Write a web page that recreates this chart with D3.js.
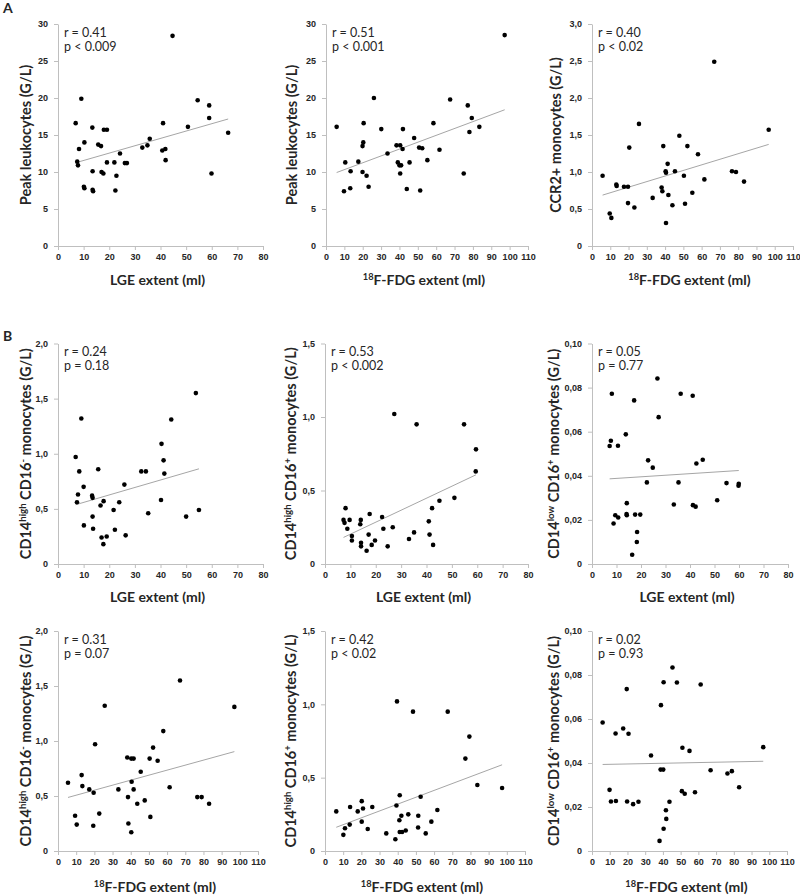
<!DOCTYPE html>
<html>
<head>
<meta charset="utf-8">
<script src="https://cdn.jsdelivr.net/npm/d3@7"></script>
<style>
  body { margin: 0; background: #fff; }
  svg { font-family: Lato, "Open Sans", sans-serif; }
</style>
</head>
<body>
<svg id="chart" width="800" height="896"></svg>
<script>
// values: [extent (ml), count]
const leukoLge = [[44.7,28.4],[9.1,19.9],[54.5,19.7],[59.0,19.0],[6.9,16.6],[41.0,16.6],[59.0,17.3],[50.7,16.1],[13.4,16.0],[17.9,15.7],[19.1,15.7],[66.4,15.3],[35.8,14.5],[10.3,14.0],[15.7,13.7],[16.8,13.5],[34.9,13.6],[32.9,13.3],[8.2,13.1],[40.7,12.9],[41.9,13.1],[24.2,12.5],[42.0,11.6],[7.5,11.4],[7.8,10.9],[19.1,11.3],[22.0,11.3],[26.1,11.2],[26.9,11.2],[13.5,10.1],[17.0,10.0],[17.7,9.8],[59.9,9.8],[22.8,9.5],[10.1,8.0],[10.3,7.8],[13.5,7.6],[13.7,7.4],[22.4,7.5]];
const leukoFdg = [[97.3,28.5],[26.1,20.0],[67.6,19.8],[77.2,19.0],[79.4,17.3],[20.5,16.6],[58.5,16.6],[5.8,16.1],[83.5,16.1],[30.1,15.8],[41.9,15.8],[78.1,15.4],[48.0,14.6],[20.3,14.0],[19.9,13.5],[38.4,13.6],[40.4,13.6],[50.7,13.3],[52.4,13.2],[41.7,13.1],[61.8,13.0],[33.5,12.5],[55.2,11.6],[10.5,11.3],[17.6,11.4],[39.1,11.3],[45.5,11.3],[40.0,10.9],[40.9,10.9],[13.4,10.1],[19.9,10.0],[22.1,9.5],[40.4,9.8],[75.0,9.8],[23.2,8.0],[13.2,7.8],[9.8,7.4],[44.0,7.7],[51.3,7.5]];
const ccr2Fdg = [[66.9,2.49],[25.7,1.65],[96.7,1.57],[47.8,1.49],[39.0,1.35],[52.2,1.35],[20.4,1.33],[58.0,1.24],[41.4,1.11],[40.3,1.01],[40.5,0.99],[45.4,1.01],[76.6,1.01],[78.8,1.0],[5.8,0.95],[50.3,0.95],[61.5,0.90],[83.2,0.87],[13.3,0.83],[13.5,0.81],[17.5,0.80],[19.7,0.80],[38.1,0.79],[38.5,0.74],[41.8,0.69],[54.9,0.72],[33.2,0.65],[19.7,0.58],[50.9,0.57],[44.0,0.55],[23.2,0.52],[9.7,0.44],[10.6,0.38],[40.5,0.31]];
const cd16negLge = [[53.8,1.55],[44.2,1.31],[9.1,1.32],[40.4,1.09],[6.9,0.97],[41.2,0.94],[15.7,0.86],[8.3,0.84],[32.5,0.84],[34.3,0.84],[41.5,0.82],[25.9,0.72],[10.0,0.70],[7.8,0.63],[13.3,0.62],[13.5,0.60],[7.4,0.56],[16.6,0.53],[17.8,0.57],[23.9,0.56],[40.2,0.58],[21.7,0.49],[55.0,0.49],[35.2,0.46],[13.5,0.43],[50.0,0.43],[10.1,0.35],[13.7,0.32],[22.2,0.31],[26.4,0.26],[19.0,0.25],[17.0,0.24],[17.7,0.18]];
const cd16posLge = [[27.3,1.02],[36.1,0.95],[54.8,0.95],[59.5,0.78],[59.4,0.63],[51.0,0.45],[45.1,0.43],[8.1,0.38],[42.2,0.38],[17.6,0.34],[22.5,0.32],[7.3,0.30],[9.7,0.30],[14.1,0.30],[40.9,0.29],[7.7,0.28],[13.9,0.27],[26.7,0.25],[8.8,0.24],[23.0,0.24],[35.1,0.215],[17.2,0.20],[41.2,0.20],[10.6,0.19],[33.1,0.17],[10.6,0.16],[19.7,0.16],[14.2,0.145],[18.4,0.13],[14.2,0.12],[24.7,0.12],[42.6,0.13],[16.4,0.09]];
const cd14lowLge = [[26.7,0.0841],[8.1,0.0772],[36.2,0.0772],[41.1,0.0763],[17.2,0.0742],[27.2,0.0666],[13.8,0.0588],[7.7,0.0559],[7.2,0.0535],[10.6,0.0536],[22.9,0.0470],[45.2,0.0473],[42.6,0.0456],[24.8,0.0437],[22.4,0.0370],[35.3,0.0370],[54.9,0.0367],[59.9,0.0364],[59.8,0.0355],[51.1,0.0289],[33.4,0.0270],[41.2,0.0267],[42.3,0.0260],[14.2,0.0276],[14.1,0.0227],[14.2,0.0221],[9.5,0.0221],[10.7,0.0211],[17.6,0.0224],[19.7,0.0224],[8.8,0.0184],[18.4,0.0145],[18.3,0.0100],[16.4,0.0042]];
const cd16negFdg = [[67.1,1.55],[25.7,1.32],[97.0,1.31],[57.9,1.09],[20.4,0.97],[52.3,0.94],[38.1,0.85],[40.3,0.84],[41.6,0.84],[50.4,0.84],[54.8,0.82],[45.5,0.72],[13.0,0.69],[5.5,0.62],[40.5,0.63],[13.4,0.59],[17.2,0.56],[33.2,0.56],[41.6,0.56],[61.4,0.58],[19.6,0.53],[38.5,0.49],[76.6,0.49],[79.0,0.49],[47.7,0.46],[43.6,0.43],[83.1,0.43],[22.7,0.34],[9.4,0.32],[50.8,0.31],[10.3,0.24],[19.4,0.23],[38.7,0.25],[40.3,0.17]];
const cd16posFdg = [[39.6,1.02],[48.4,0.95],[67.5,0.95],[79.4,0.78],[77.2,0.63],[83.8,0.45],[97.4,0.43],[41.1,0.38],[52.6,0.37],[39.3,0.31],[13.8,0.30],[20.2,0.34],[20.9,0.29],[26.0,0.30],[6.2,0.27],[18.0,0.27],[61.8,0.28],[45.8,0.25],[42.0,0.24],[51.3,0.24],[40.9,0.21],[20.2,0.20],[58.5,0.20],[13.6,0.18],[51.2,0.16],[11.0,0.155],[23.5,0.15],[41.1,0.13],[42.4,0.13],[44.4,0.14],[10.1,0.11],[33.7,0.12],[55.4,0.12],[38.7,0.08]];
const cd14lowFdg = [[45.4,0.0834],[40.4,0.0767],[47.9,0.0766],[61.3,0.0757],[19.6,0.0736],[38.9,0.0663],[6.0,0.0584],[17.6,0.0557],[13.3,0.0534],[20.6,0.0533],[51.0,0.0469],[55.0,0.0455],[96.6,0.0472],[33.3,0.0434],[38.7,0.0370],[40.2,0.0370],[66.9,0.0367],[78.9,0.0363],[76.4,0.0352],[83.0,0.0290],[9.9,0.0278],[50.7,0.0272],[52.3,0.0260],[58.1,0.0267],[10.7,0.0225],[13.5,0.0227],[19.8,0.0225],[23.2,0.0213],[26.2,0.0224],[43.7,0.0224],[41.7,0.0185],[41.9,0.0146],[40.4,0.0101],[38.1,0.0046]];

const rValues = ['r = 0.41', 'r = 0.51', 'r = 0.40', 'r = 0.24', 'r = 0.53', 'r = 0.05', 'r = 0.31', 'r = 0.42', 'r = 0.02'];
const pValues = ['p < 0.009', 'p < 0.001', 'p < 0.02', 'p = 0.18', 'p < 0.002', 'p = 0.77', 'p = 0.07', 'p < 0.02', 'p = 0.93'];

// axis maxima and steps
const xMaxes = [80, 110, 110, 80, 80, 80, 110, 110, 110];
const yMaxes = [30, 30, 3.0, 2.0, 1.5, 0.10, 2.0, 1.5, 0.10];
const ySteps = [5, 5, 0.5, 0.5, 0.5, 0.02, 0.5, 0.5, 0.02];
const yDecimals = [0, 0, 1, 1, 1, 2, 1, 1, 2];

// axis titles as [text, superscript?] pieces
const lgeTitle = [['LGE extent (ml)', false]];
const fdgTitle = [['18', true], ['F-FDG extent (ml)', false]];
const leukoTitle = [['Peak leukocytes (G/L)', false]];
const ccr2Title = [['CCR2+ monocytes (G/L)', false]];
const negTitle = [['CD14', false], ['high', true], [' CD16', false], ['-', true], [' monocytes (G/L)', false]];
const posTitle = [['CD14', false], ['high', true], [' CD16', false], ['+', true], [' monocytes (G/L)', false]];
const lowTitle = [['CD14', false], ['low', true], [' CD16', false], ['+', true], [' monocytes (G/L)', false]];

const seriesList = [leukoLge, leukoFdg, ccr2Fdg, cd16negLge, cd16posLge, cd14lowLge, cd16negFdg, cd16posFdg, cd14lowFdg];
const xTitles = [lgeTitle, fdgTitle, fdgTitle, lgeTitle, lgeTitle, lgeTitle, fdgTitle, fdgTitle, fdgTitle];
const yTitles = [leukoTitle, leukoTitle, ccr2Title, negTitle, posTitle, lowTitle, negTitle, posTitle, lowTitle];

// pixel layout of each plot area
const cols = [[58, 263], [326, 528], [592, 793], [58, 263], [325, 528], [592, 788], [58, 258], [325, 525], [592, 787]];
const rows = [{ top: 24, bottom: 246, title: 285 }, { top: 343.5, bottom: 564, title: 602 }, { top: 631, bottom: 851, title: 892 }];
// distance from the y axis to the baseline of its rotated title
const yTitleGap = [27, 29, 31, 27, 29, 33, 27, 29, 33];

const svg = d3.select('#chart');
const axisColor = '#bfbfbf';
const textColor = '#262626';

const addPieces = (text, pieces) => {
  pieces.forEach(([s, sup]) => {
    const t = text.append('tspan').text(s);
    if (sup) t.attr('baseline-shift', 'super').attr('font-size', '0.66em');
  });
};

const styleAxis = (g) => {
  g.select('.domain').attr('stroke', axisColor);
  g.selectAll('.tick line').attr('stroke', axisColor);
  g.selectAll('.tick text')
    .attr('fill', textColor)
    .attr('font-size', 9)
    .attr('font-weight', 'bold');
};

seriesList.forEach((pts, i) => {
  const row = rows[Math.floor(i / 3)];
  const [left, right] = cols[i];

  const x = d3.scaleLinear().domain([0, xMaxes[i]]).range([left, right]);
  const y = d3.scaleLinear().domain([0, yMaxes[i]]).range([row.bottom, row.top]);

  const fmt = (d) => (d === 0 ? '0' : d.toFixed(yDecimals[i]).replace('.', ','));

  svg.append('g')
    .attr('transform', `translate(0,${row.bottom})`)
    .call(d3.axisBottom(x)
      .tickValues(d3.range(0, xMaxes[i] + 1, 10))
      .tickFormat(d3.format('d'))
      .tickSize(4)
      .tickPadding(4)
      .tickSizeOuter(0))
    .call(styleAxis);

  svg.append('g')
    .attr('transform', `translate(${left},0)`)
    .call(d3.axisLeft(y)
      .tickValues(d3.range(0, yMaxes[i] + ySteps[i] / 2, ySteps[i]))
      .tickFormat(fmt)
      .tickSize(4)
      .tickPadding(6)
      .tickSizeOuter(0))
    .call(styleAxis);

  // least squares trend line over the data range
  const mx = d3.mean(pts, (d) => d[0]);
  const my = d3.mean(pts, (d) => d[1]);
  const slope = d3.sum(pts, (d) => (d[0] - mx) * (d[1] - my)) / d3.sum(pts, (d) => (d[0] - mx) ** 2);
  const icpt = my - slope * mx;
  const ext = d3.extent(pts, (d) => d[0]);

  svg.append('path')
    .datum(ext.map((v) => [v, icpt + slope * v]))
    .attr('fill', 'none')
    .attr('stroke', '#a6a6a6')
    .attr('stroke-width', 1)
    .attr('d', d3.line().x((d) => x(d[0])).y((d) => y(d[1])));

  svg.append('g')
    .selectAll('circle')
    .data(pts)
    .join('circle')
    .attr('cx', (d) => x(d[0]))
    .attr('cy', (d) => y(d[1]))
    .attr('r', 2.3)
    .attr('fill', '#000');

  svg.append('text')
    .attr('x', left + 6)
    .attr('y', row.top + 12.5)
    .attr('font-size', 12.5)
    .attr('fill', textColor)
    .text(rValues[i]);
  svg.append('text')
    .attr('x', left + 6)
    .attr('y', row.top + 26.5)
    .attr('font-size', 12.5)
    .attr('fill', textColor)
    .text(pValues[i]);

  const xt = svg.append('text')
    .attr('x', (left + right) / 2 - 3)
    .attr('y', row.title)
    .attr('text-anchor', 'middle')
    .attr('font-size', 14)
    .attr('font-weight', 'bold')
    .attr('fill', textColor);
  addPieces(xt, xTitles[i]);

  const yt = svg.append('text')
    .attr('transform', `translate(${left - yTitleGap[i]},${(row.top + row.bottom) / 2}) rotate(-90)`)
    .attr('text-anchor', 'middle')
    .attr('font-size', 14.5)
    .attr('font-weight', 'bold')
    .attr('fill', textColor);
  addPieces(yt, yTitles[i]);
});

svg.append('text').attr('x', 3).attr('y', 13).attr('font-size', 14).attr('font-weight', 'bold').attr('fill', textColor).text('A');
svg.append('text').attr('x', 3).attr('y', 341).attr('font-size', 14).attr('font-weight', 'bold').attr('fill', textColor).text('B');
</script>
</body>
</html>
